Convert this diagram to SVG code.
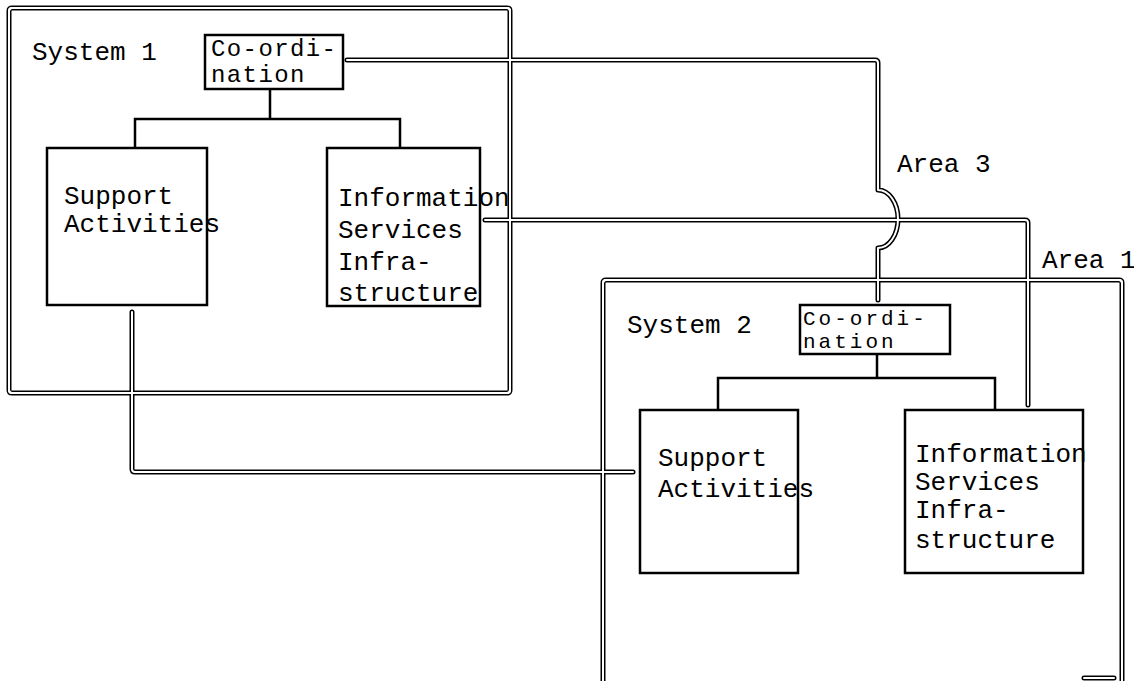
<svg xmlns="http://www.w3.org/2000/svg" xmlns:xlink="http://www.w3.org/1999/xlink" width="1134" height="681" viewBox="0 0 1134 681">
<style>
  .bg{fill:#fff}
  .t{font-family:"Liberation Mono","DejaVu Sans Mono",monospace;font-size:26px;fill:#000}
  .c1{font-size:24px;letter-spacing:1.4px}
  .c2{font-size:21px;letter-spacing:3px}
  .box{fill:none;stroke:#000;stroke-width:2.5}
  .tree{fill:none;stroke:#000;stroke-width:2.5}
  .dlo{fill:none;stroke:#000;stroke-width:5;stroke-linecap:round;stroke-linejoin:round}
  .dli{fill:none;stroke:#fff;stroke-width:2;stroke-linecap:round;stroke-linejoin:round}
</style>
<defs>
  <path id="frame1" d="M12,8 H507 Q510,8 510,11 V390 Q510,393 507,393 H12 Q9,393 9,390 V11 Q9,8 12,8 Z"/>
  <path id="frame2" d="M603,681 V283 Q603,280 606,280 H1119 Q1122,280 1122,283 V681"/>
  <path id="frame2b" d="M1084,678 H1114"/>
  <path id="c-area3" d="M347,60 H875 Q878,60 878,63 V190 A20 29 0 0 1 878,248 V300"/>
  <path id="c-area1" d="M485,220 H1025 Q1028,220 1028,223 V405"/>
  <path id="c-support" d="M132,312 V469 Q132,472 135,472 H633"/>
</defs>
<rect class="bg" x="0" y="0" width="1134" height="681"/>

<g id="system1">
  <use xlink:href="#frame1" class="dlo"/>
  <use xlink:href="#frame1" class="dli"/>
  <text class="t" x="32" y="60">System 1</text>
</g>

<g id="system2">
  <use xlink:href="#frame2" class="dlo"/>
  <use xlink:href="#frame2" class="dli"/>
  <use xlink:href="#frame2b" class="dlo"/>
  <use xlink:href="#frame2b" class="dli"/>
  <text class="t" x="627" y="333">System 2</text>
</g>

<g id="coord1">
  <rect class="box" x="205" y="35" width="138" height="54"/>
  <text class="t c1" x="211" y="56">Co-ordi-</text>
  <text class="t c1" x="211" y="82">nation</text>
</g>

<g id="support1">
  <rect class="box" x="47" y="148" width="160" height="157"/>
  <text class="t" x="64" y="204">Support</text>
  <text class="t" x="64" y="232">Activities</text>
</g>

<g id="info1">
  <rect class="box" x="327" y="148" width="153" height="158"/>
  <text class="t" x="338" y="206">Information</text>
  <text class="t" x="338" y="238">Services</text>
  <text class="t" x="338" y="270">Infra-</text>
  <text class="t" x="338" y="301">structure</text>
</g>

<g id="coord2">
  <rect class="box" x="800" y="305" width="150" height="49"/>
  <text class="t c2" x="803" y="325">Co-ordi-</text>
  <text class="t c2" x="803" y="348">nation</text>
</g>

<g id="support2">
  <rect class="box" x="640" y="410" width="158" height="163"/>
  <text class="t" x="658" y="466">Support</text>
  <text class="t" x="658" y="497">Activities</text>
</g>

<g id="info2">
  <rect class="box" x="905" y="410" width="178" height="163"/>
  <text class="t" x="915" y="462">Information</text>
  <text class="t" x="915" y="490">Services</text>
  <text class="t" x="915" y="518">Infra-</text>
  <text class="t" x="915" y="548">structure</text>
</g>

<g id="labels">
  <text class="t" x="897" y="172">Area 3</text>
  <text class="t" x="1042" y="268">Area 1</text>
</g>

<g id="connectors">
  <path class="tree" d="M270,89 V119 M135,148 V119 H400 V148"/>
  <path class="tree" d="M877,354 V378 M718,410 V378 H995 V410"/>
  <use xlink:href="#c-area3" class="dlo"/>
  <use xlink:href="#c-area1" class="dlo"/>
  <use xlink:href="#c-support" class="dlo"/>
  <use xlink:href="#c-area3" class="dli"/>
  <use xlink:href="#c-area1" class="dli"/>
  <use xlink:href="#c-support" class="dli"/>
  <use xlink:href="#frame1" class="dli"/>
  <use xlink:href="#frame2" class="dli"/>
</g>
</svg>
